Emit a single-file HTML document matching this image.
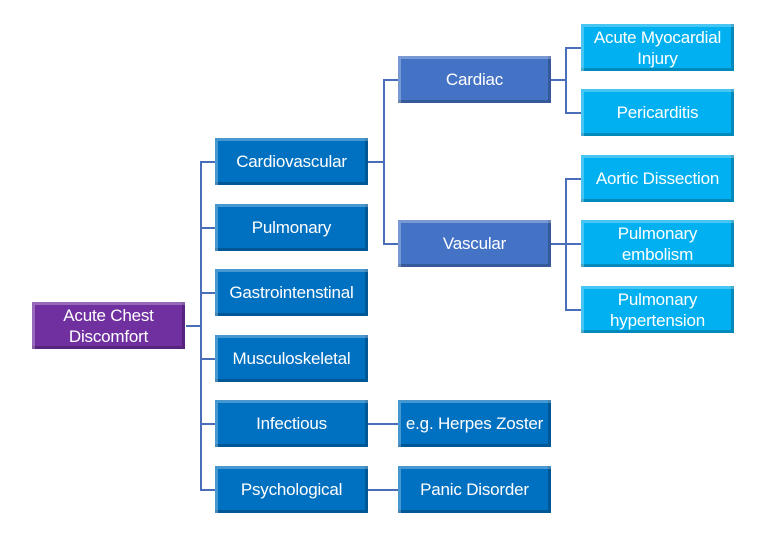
<!DOCTYPE html>
<html><head><style>
body{margin:0;width:775px;height:540px;background:#fff;position:relative;overflow:hidden;font-family:"Liberation Sans",sans-serif}
.b{position:absolute;width:153px;height:47px;color:#fff;font-size:17px;line-height:21px;display:flex;align-items:center;justify-content:center;text-align:center;box-sizing:border-box;white-space:nowrap;letter-spacing:-0.2px;box-shadow:inset 3px 3px 0 rgba(255,255,255,.28),inset -3px -3px 0 rgba(0,0,0,.22)}
.p{background:#7030A0}.l1{background:#0070C0}.l2{background:#4472C4}.l3{background:#00B0F0}
.h{position:absolute;height:2px;background:#4a6fb8}.v{position:absolute;width:2px;background:#4a6fb8}
</style></head><body>
<div class="h" style="left:186px;top:325px;width:16px"></div>
<div class="v" style="left:200px;top:161px;height:330px"></div>
<div class="h" style="left:200px;top:161px;width:15px"></div>
<div class="h" style="left:200px;top:227px;width:15px"></div>
<div class="h" style="left:200px;top:292px;width:15px"></div>
<div class="h" style="left:200px;top:358px;width:15px"></div>
<div class="h" style="left:200px;top:423px;width:15px"></div>
<div class="h" style="left:200px;top:489px;width:15px"></div>
<div class="h" style="left:368px;top:161px;width:16px"></div>
<div class="v" style="left:383px;top:79px;height:166px"></div>
<div class="h" style="left:383px;top:79px;width:15px"></div>
<div class="h" style="left:383px;top:243px;width:15px"></div>
<div class="h" style="left:368px;top:423px;width:30px"></div>
<div class="h" style="left:368px;top:489px;width:30px"></div>
<div class="h" style="left:551px;top:79px;width:15px"></div>
<div class="v" style="left:565px;top:47px;height:67px"></div>
<div class="h" style="left:565px;top:47px;width:16px"></div>
<div class="h" style="left:565px;top:112px;width:16px"></div>
<div class="h" style="left:551px;top:243px;width:30px"></div>
<div class="v" style="left:565px;top:178px;height:133px"></div>
<div class="h" style="left:565px;top:178px;width:16px"></div>
<div class="h" style="left:565px;top:309px;width:16px"></div>

<div class="b p" style="left:32px;top:302px">Acute Chest<br>Discomfort</div>
<div class="b l1" style="left:215px;top:138px">Cardiovascular</div>
<div class="b l1" style="left:215px;top:204px">Pulmonary</div>
<div class="b l1" style="left:215px;top:269px">Gastrointenstinal</div>
<div class="b l1" style="left:215px;top:335px">Musculoskeletal</div>
<div class="b l1" style="left:215px;top:400px">Infectious</div>
<div class="b l1" style="left:215px;top:466px">Psychological</div>
<div class="b l2" style="left:398px;top:56px">Cardiac</div>
<div class="b l2" style="left:398px;top:220px">Vascular</div>
<div class="b l1" style="left:398px;top:400px">e.g. Herpes Zoster</div>
<div class="b l1" style="left:398px;top:466px">Panic Disorder</div>
<div class="b l3" style="left:581px;top:24px">Acute Myocardial<br>Injury</div>
<div class="b l3" style="left:581px;top:89px">Pericarditis</div>
<div class="b l3" style="left:581px;top:155px">Aortic Dissection</div>
<div class="b l3" style="left:581px;top:220px">Pulmonary<br>embolism</div>
<div class="b l3" style="left:581px;top:286px">Pulmonary<br>hypertension</div>
</body></html>
